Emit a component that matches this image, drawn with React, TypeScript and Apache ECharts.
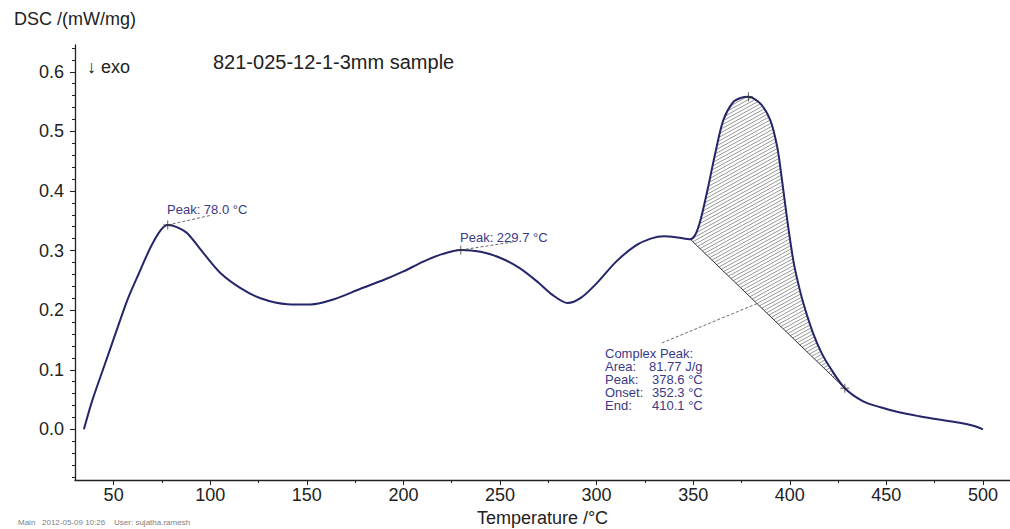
import React, { useEffect, useRef } from "react";
import * as echarts from "echarts";

// DSC curve: temperature (°C) and signal (mW/mg)
const tempC = [
  34.6, 39, 45, 51, 57.1, 63.1, 69.2, 74.3, 78.0, 83, 88.1, 96.7, 105.4, 115.7, 126, 139.9,
  152, 163.8, 177.8, 190, 200, 210, 220, 229.7, 240, 250, 260, 270, 277, 285, 292, 300,
  310, 320, 328, 335, 342, 348.5, 351, 353.7, 357.3, 361.4, 365.6, 370.7, 374.5, 378.6,
  384.7, 389.9, 393.5, 396, 398.7, 401.8, 404, 407, 412, 416.5, 421, 428.5, 438, 447, 456,
  467, 478, 488, 495, 500,
];
const dscValues = [
  0.0, 0.049, 0.105, 0.161, 0.217, 0.262, 0.306, 0.334, 0.343, 0.339, 0.329, 0.295, 0.262,
  0.237, 0.22, 0.21, 0.2095, 0.218, 0.236, 0.251, 0.265, 0.281, 0.294, 0.301, 0.298, 0.288,
  0.271, 0.246, 0.226, 0.212, 0.221, 0.245, 0.281, 0.308, 0.32, 0.324, 0.322, 0.319, 0.326,
  0.35, 0.4, 0.463, 0.519, 0.549, 0.556, 0.558, 0.547, 0.519, 0.474, 0.418, 0.351, 0.284,
  0.25, 0.212, 0.162, 0.128, 0.103, 0.069, 0.047, 0.037, 0.029, 0.022, 0.016, 0.011, 0.006,
  0.0,
];

// axis ticks
const xTickValues = [50, 100, 150, 200, 250, 300, 350, 400, 450, 500];
const xMinorTickValues = [75, 125, 175, 225, 275, 325, 375, 425, 475];
const yTickValues = [0, 0.1, 0.2, 0.3, 0.4, 0.5, 0.6];
const yMinorTickValues = [
  -0.08, -0.06, -0.04, -0.02, 0.02, 0.04, 0.06, 0.08, 0.12, 0.14, 0.16, 0.18, 0.22, 0.24,
  0.26, 0.28, 0.32, 0.34, 0.36, 0.38, 0.42, 0.44, 0.46, 0.48, 0.52, 0.54, 0.56, 0.58, 0.62,
  0.64,
];

// evaluation markers (+)
const markerT = [78.0, 229.7, 378.6, 428.5];
const markerV = [0.343, 0.301, 0.558, 0.069];

// integration baseline of the complex peak
const baselineT = [348.5, 428.5];
const baselineV = [0.319, 0.069];

// dashed leader lines of the annotations
const leaderStartT = [78.0, 229.7, 333.8];
const leaderStartV = [0.343, 0.301, 0.145];
const leaderEndT = [100.9, 256.7, 383.0];
const leaderEndV = [0.3596, 0.3144, 0.211];

// annotation texts
const peakLabels = ["Peak: 78.0 °C", "Peak: 229.7 °C"];
const complexNames = ["Complex Peak:", "Area:", "Peak:", "Onset:", "End:"];
const complexValues = ["", "81.77 J/g", "378.6 °C", "352.3 °C", "410.1 °C"];

const FONT = "'Liberation Sans', Arial, Helvetica, sans-serif";
const CURVE = "#25256c";
const NOTE = "#3a3a86";

export default function App() {
  const ref = useRef<HTMLDivElement>(null);

  useEffect(() => {
    if (!ref.current) return;
    const chart = echarts.init(ref.current, undefined, { renderer: "svg" });

    const curveData = tempC.map((t, i) => [t, dscValues[i]]);

    const hatchRender = (_params: any, api: any) => {
      const poly: number[][] = [];
      for (let i = 0; i < tempC.length; i++) {
        if (tempC[i] >= baselineT[0] && tempC[i] <= baselineT[1]) {
          poly.push(api.coord([tempC[i], dscValues[i]]));
        }
      }
      const a = api.coord([baselineT[0], baselineV[0]]);
      const b = api.coord([baselineT[1], baselineV[1]]);
      const s = 0.55;
      const gap = 3.6;
      let cMin = Infinity;
      let cMax = -Infinity;
      poly.forEach((p) => {
        const c = p[1] + s * p[0];
        cMin = Math.min(cMin, c);
        cMax = Math.max(cMax, c);
      });
      const children: any[] = [];
      for (let c = Math.ceil(cMin / gap) * gap; c <= cMax; c += gap) {
        const xs: number[] = [];
        for (let i = 0; i < poly.length; i++) {
          const p1 = poly[i];
          const p2 = poly[(i + 1) % poly.length];
          const f1 = p1[1] + s * p1[0] - c;
          const f2 = p2[1] + s * p2[0] - c;
          if (f1 < 0 !== f2 < 0) {
            const t = f1 / (f1 - f2);
            xs.push(p1[0] + t * (p2[0] - p1[0]));
          }
        }
        xs.sort((u, v) => u - v);
        for (let k = 0; k + 1 < xs.length; k += 2) {
          children.push({
            type: "line",
            shape: { x1: xs[k], y1: c - s * xs[k], x2: xs[k + 1], y2: c - s * xs[k + 1] },
            style: { stroke: "#6a6a6a", lineWidth: 0.7 },
          });
        }
      }
      children.push({
        type: "line",
        shape: { x1: a[0], y1: a[1], x2: b[0], y2: b[1] },
        style: { stroke: "#333344", lineWidth: 1 },
      });
      return { type: "group", children };
    };

    const leaderSeries = leaderStartT.map((t, i) => ({
      type: "line",
      xAxisIndex: 0,
      yAxisIndex: 0,
      data: [
        [t, leaderStartV[i]],
        [leaderEndT[i], leaderEndV[i]],
      ],
      symbol: "none",
      silent: true,
      lineStyle: { type: [3, 2], width: 0.8, color: "#444" },
      z: 4,
    }));

    const graphics: any[] = [
      {
        type: "text",
        x: 87,
        y: 67,
        style: { text: "↓ exo", fontSize: 18, fontFamily: FONT, fill: "#222", verticalAlign: "middle" },
      },
      {
        type: "text",
        x: 213,
        y: 62,
        style: {
          text: "821-025-12-1-3mm sample",
          fontSize: 20,
          fontFamily: FONT,
          fill: "#222",
          verticalAlign: "middle",
        },
      },
      {
        type: "text",
        x: 167,
        y: 209,
        style: { text: peakLabels[0], fontSize: 13, fontFamily: FONT, fill: NOTE, verticalAlign: "middle" },
      },
      {
        type: "text",
        x: 460,
        y: 237,
        style: { text: peakLabels[1], fontSize: 13, fontFamily: FONT, fill: NOTE, verticalAlign: "middle" },
      },
      {
        type: "text",
        x: 18,
        y: 522,
        style: {
          text: "Main   2012-05-09 10:26    User: sujatha.ramesh",
          fontSize: 8,
          fontFamily: FONT,
          fill: "#808080",
          verticalAlign: "middle",
        },
      },
    ];
    const blockTop = 353;
    complexNames.forEach((n, i) => {
      graphics.push({
        type: "text",
        x: 605,
        y: blockTop + i * 13.2,
        style: { text: n, fontSize: 13, fontFamily: FONT, fill: NOTE, verticalAlign: "middle" },
      });
      if (complexValues[i]) {
        graphics.push({
          type: "text",
          x: i === 1 ? 649 : 652,
          y: blockTop + i * 13.2,
          style: { text: complexValues[i], fontSize: 13, fontFamily: FONT, fill: NOTE, verticalAlign: "middle" },
        });
      }
    });

    const axisColor = "#222";

    chart.setOption({
      animation: false,
      textStyle: { fontFamily: FONT },
      grid: { left: 75, right: 0, top: 45, bottom: 49, containLabel: false, outerBoundsMode: "none" },
      xAxis: [
        {
          type: "value",
          min: 30,
          max: 514,
          position: "bottom",
          name: "Temperature /°C",
          nameLocation: "middle",
          nameGap: 25,
          nameTextStyle: { fontSize: 18, color: axisColor, fontFamily: FONT },
          axisLine: { show: true, onZero: false, lineStyle: { color: axisColor, width: 1.3 } },
          axisTick: { show: true, length: 5, customValues: xTickValues, lineStyle: { color: axisColor } },
          axisLabel: { customValues: xTickValues, fontSize: 18, color: axisColor, margin: 6, fontFamily: FONT },
          splitLine: { show: false },
        },
        {
          type: "value",
          min: 30,
          max: 514,
          position: "bottom",
          axisLine: { show: false, onZero: false },
          axisTick: { show: true, length: 3, customValues: xMinorTickValues, lineStyle: { color: axisColor } },
          axisLabel: { show: false },
          splitLine: { show: false },
        },
      ],
      yAxis: [
        {
          type: "value",
          min: -0.085,
          max: 0.645,
          position: "left",
          name: "DSC /(mW/mg)",
          nameLocation: "end",
          nameGap: 17,
          nameTextStyle: { fontSize: 18, color: axisColor, align: "center", fontFamily: FONT },
          axisLine: { show: true, onZero: false, lineStyle: { color: axisColor, width: 1.3 } },
          axisTick: { show: true, length: 5, customValues: yTickValues, lineStyle: { color: axisColor } },
          axisLabel: {
            customValues: yTickValues,
            fontSize: 18,
            color: axisColor,
            margin: 11,
            fontFamily: FONT,
            formatter: (v: number) => v.toFixed(1),
          },
          splitLine: { show: false },
        },
        {
          type: "value",
          min: -0.085,
          max: 0.645,
          position: "left",
          offset: 0,
          axisLine: { show: false, onZero: false },
          axisTick: { show: true, length: 3, customValues: yMinorTickValues, lineStyle: { color: axisColor } },
          axisLabel: { show: false },
          splitLine: { show: false },
        },
      ],
      series: [
        {
          type: "custom",
          coordinateSystem: "cartesian2d",
          xAxisIndex: 0,
          yAxisIndex: 0,
          data: [[baselineT[0], baselineV[0]]],
          renderItem: hatchRender,
          silent: true,
          z: 1,
        },
        {
          type: "line",
          xAxisIndex: 0,
          yAxisIndex: 0,
          data: curveData,
          showSymbol: false,
          smooth: 0.3,
          lineStyle: { color: CURVE, width: 2 },
          silent: true,
          z: 3,
        },
        ...leaderSeries,
        {
          type: "scatter",
          xAxisIndex: 0,
          yAxisIndex: 0,
          data: markerT.map((t, i) => [t, markerV[i]]),
          symbol: "path://M5 0L5 10M0 5L10 5",
          symbolSize: 9,
          itemStyle: { color: "rgba(0,0,0,0)", borderColor: "#333", borderWidth: 1 },
          silent: true,
          z: 5,
        },
      ],
      graphic: graphics,
    });

    return () => chart.dispose();
  }, []);

  return (
    <div
      ref={ref}
      style={{ position: "fixed", left: 0, top: 0, width: 1010, height: 529, background: "#fff" }}
    />
  );
}
